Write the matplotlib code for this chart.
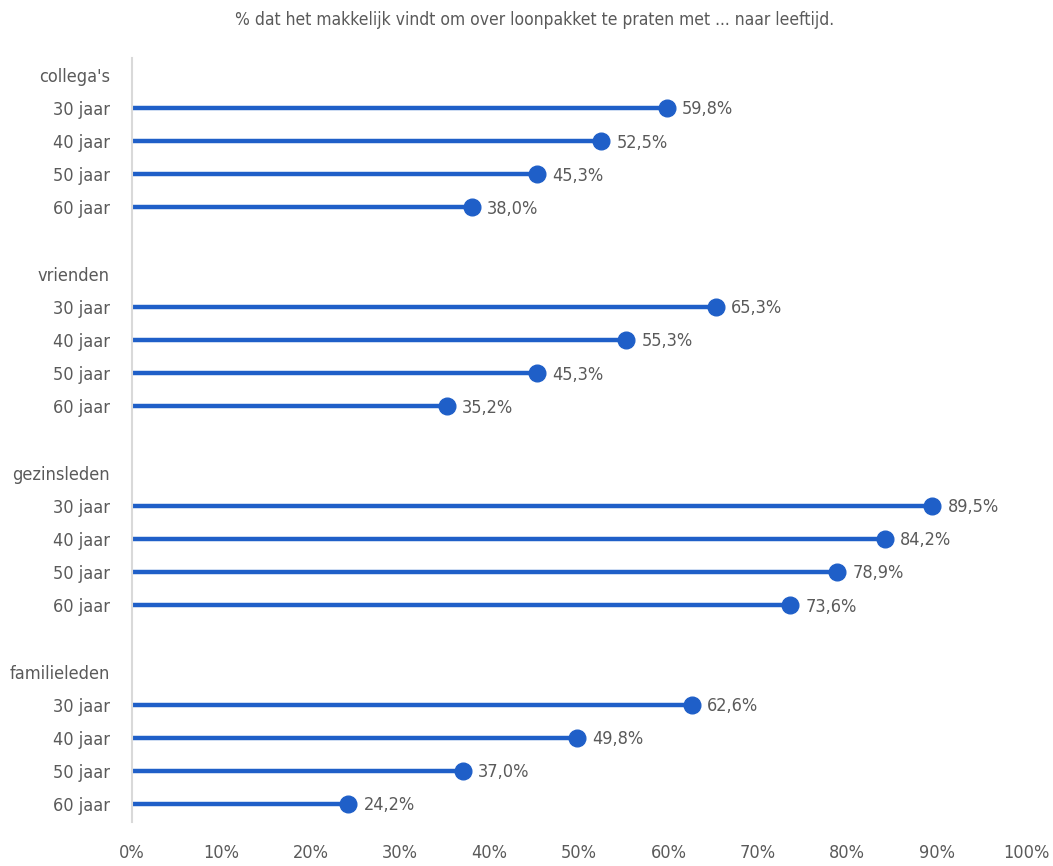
import matplotlib.pyplot as plt

groups = ["collega's", "vrienden", "gezinsleden", "familieleden"]
ages = ["30 jaar", "40 jaar", "50 jaar", "60 jaar"]
collegas = [59.8, 52.5, 45.3, 38.0]
vrienden = [65.3, 55.3, 45.3, 35.2]
gezinsleden = [89.5, 84.2, 78.9, 73.6]
familieleden = [62.6, 49.8, 37.0, 24.2]
x_ticks = [0, 10, 20, 30, 40, 50, 60, 70, 80, 90, 100]
title = "% dat het makkelijk vindt om over loonpakket te praten met ... naar leeftijd."

blue = "#1f5fc8"
grey = "#5a5a5a"

plt.rcParams['font.family'] = ['DejaVu Sans']
plt.rcParams['font.stretch'] = 'condensed'

fig = plt.figure(figsize=(10.53, 8.66), dpi=100)
ax = fig.add_axes([132 / 1053, 44 / 866, 894 / 1053, 764 / 866])

ytick_pos = []
ytick_lab = []
slot = 0
for name, vals in zip(groups, [collegas, vrienden, gezinsleden, familieleden]):
    ytick_pos.append(slot)
    ytick_lab.append(name)
    for age, v in zip(ages, vals):
        slot += 1
        ax.hlines(slot, 0, v, color=blue, lw=3.2, zorder=2)
        ax.plot(v, slot, 'o', color=blue, ms=12, zorder=3)
        ax.annotate(f"{v:.1f}%".replace('.', ','), (v, slot), xytext=(11, -1),
                    textcoords='offset points', va='center', ha='left',
                    fontsize=13, color=grey)
        ytick_pos.append(slot)
        ytick_lab.append(age)
    slot += 2

ax.set_xlim(0, 100)
ax.set_ylim(22.54, -0.51)
ax.set_yticks(ytick_pos)
ax.set_yticklabels(ytick_lab)
ax.set_xticks(x_ticks)
ax.set_xticklabels([f"{t}%" for t in x_ticks])
ax.tick_params(axis='both', length=0, labelsize=13, labelcolor=grey)
ax.tick_params(axis='y', pad=16)
ax.tick_params(axis='x', pad=16)
for s in ['top', 'right', 'bottom']:
    ax.spines[s].set_visible(False)
ax.spines['left'].set_color('#d9d9d9')
ax.spines['left'].set_linewidth(1.5)

fig.text(535 / 1053, 1 - 20 / 866, title, ha='center', va='center', fontsize=12.5, color=grey)

fig.savefig('out.png', dpi=100)
